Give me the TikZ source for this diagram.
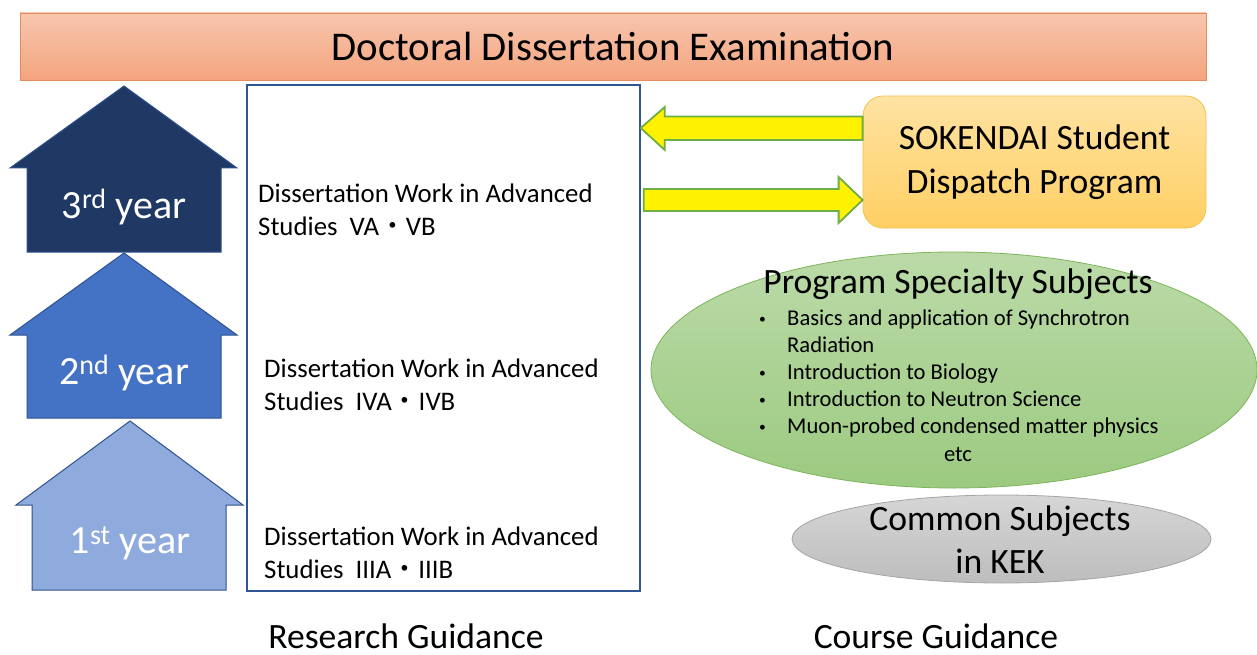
\documentclass[tikz,border=0pt]{standalone}
\usepackage{fontspec}
\usepackage{graphicx}
\setmainfont{Carlito}
\newfontfamily\cjk{Noto Sans CJK JP}
\usetikzlibrary{shapes.geometric,calc}
\definecolor{bannerTop}{HTML}{F8C6AE}
\definecolor{bannerBot}{HTML}{F4A47E}
\definecolor{bannerLine}{HTML}{E58B62}
\definecolor{houseLine}{HTML}{2F528F}
\definecolor{houseA}{HTML}{203864}
\definecolor{houseB}{HTML}{4472C4}
\definecolor{houseC}{HTML}{8FAADC}
\definecolor{boxLine}{HTML}{2F5597}
\definecolor{sokTop}{HTML}{FFE3A3}
\definecolor{sokBot}{HTML}{FFCF63}
\definecolor{sokLine}{HTML}{F2C14E}
\definecolor{greenTop}{HTML}{BBDAA8}
\definecolor{greenBot}{HTML}{9CCA80}
\definecolor{greenLine}{HTML}{7DB55C}
\definecolor{greyTop}{HTML}{D6D6D6}
\definecolor{greyBot}{HTML}{BDBDBD}
\definecolor{greyLine}{HTML}{A5A5A5}
\definecolor{arrowLine}{HTML}{70AD47}
\newcommand\szTitle{\fontsize{40.8}{48}\selectfont}
\newcommand\szBig{\fontsize{35.6}{44}\selectfont}
\newcommand\szBody{\fontsize{26.8}{33}\selectfont}
\newcommand\szSmall{\fontsize{22.6}{27}\selectfont}
\newcommand\mdot{{\cjk ・}}
\newcommand\bul{\makebox[30pt][l]{\hspace{2pt}\raisebox{0.15ex}{\scalebox{0.6}{\textbullet}}}}
\begin{document}
\begin{tikzpicture}[x=1pt,y=-1pt,
  house/.style={draw=houseLine, line width=1pt},
  yearlabel/.style={text=white, font=\fontsize{40}{44}\selectfont, inner sep=0pt},
  bodytext/.style={font=\szBody, align=left, anchor=west, inner sep=0pt},
  yarrow/.style={draw=arrowLine, line width=1.8pt, fill=yellow, line join=miter},
]
\useasboundingbox (0,0) rectangle (1257,655);
\fill[white] (0,0) rectangle (1257,655);

% banner
\node[draw=bannerLine, line width=0.8pt, top color=bannerTop, bottom color=bannerBot,
  minimum width=1186pt, minimum height=67pt, inner sep=0pt, font=\szTitle]
  (banner) at (613,46.5) {Doctoral Dissertation Examination};

% main box
\node[draw=boxLine, line width=1.5pt, minimum width=393pt, minimum height=506pt, inner sep=0pt]
  (box) at (443.5,338) {};

% houses
\draw[house, fill=houseA] (124,86) -- (237,168) -- (221,168) -- (221,252) -- (27,252) -- (27,168) -- (10,168) -- cycle;
\draw[house, fill=houseB] (124,253) -- (237,335) -- (221,335) -- (221,418) -- (27,418) -- (27,335) -- (10,335) -- cycle;
\draw[house, fill=houseC] (130,421) -- (243,505) -- (226,505) -- (226,590) -- (32,590) -- (32,505) -- (16,505) -- cycle;
\node[yearlabel] (y3) at (124,207) {3\textsuperscript{rd} year};
\node[yearlabel] (y2) at (124,373) {2\textsuperscript{nd} year};
\node[yearlabel] (y1) at (130,543) {1\textsuperscript{st} year};

% box texts
\node[bodytext] (t3) at (258,210) {Dissertation Work in Advanced\\Studies\ \ VA\mdot VB};
\node[bodytext] (t2) at (264,385) {Dissertation Work in Advanced\\Studies\ \ IVA\mdot IVB};
\node[bodytext] (t1) at (264,553) {Dissertation Work in Advanced\\Studies\ \ IIIA\mdot IIIB};

% SOKENDAI
\node[draw=sokLine, line width=0.8pt, rounded corners=20pt, top color=sokTop, bottom color=sokBot,
  minimum width=343pt, minimum height=132pt, inner sep=0pt, align=center, font=\szBig]
  (sok) at (1034.5,162) {SOKENDAI Student\\Dispatch Program};

% yellow arrows
\coordinate (la) at (box.east |- 0,128);
\coordinate (ra) at (sok.west |- 0,200);
\draw[yarrow] (sok.west |- 0,116.5) -- ($(la)+(24,-11.5)$) -- ($(la)+(24,-21)$) -- (la)
  -- ($(la)+(24,22)$) -- ($(la)+(24,12)$) -- (sok.west |- 0,140) -- cycle;
\draw[yarrow] ($(box.east |- 0,189)+(3,0)$) -- ($(ra)+(-24,-11)$) -- ($(ra)+(-24,-23)$) -- (ra)
  -- ($(ra)+(-24,23)$) -- ($(ra)+(-24,11)$) -- ($(box.east |- 0,211)+(3,0)$) -- cycle;

% program specialty ellipse
\node[ellipse, draw=greenLine, line width=0.8pt, top color=greenTop, bottom color=greenBot,
  minimum width=606pt, minimum height=236pt, inner sep=0pt] (green) at (954,370) {};
\node[font=\szBig, inner sep=0pt] (gtitle) at (958,284) {Program Specialty Subjects};
\node[font=\szSmall, align=left, anchor=west, inner sep=0pt] (glist) at (757,373)
  {\bul Basics and application of Synchrotron\\
   \makebox[30pt][l]{}Radiation\\
   \bul Introduction to Biology\\
   \bul Introduction to Neutron Science\\
   \bul Muon-probed condensed matter physics};
\node[font=\szSmall, inner sep=0pt] (getc) at (958,454) {etc};

% common subjects ellipse
\node[ellipse, draw=greyLine, line width=0.8pt, top color=greyTop, bottom color=greyBot,
  minimum width=419pt, minimum height=88pt, inner sep=0pt] (grey) at (1001.5,539) {};
\node[font=\fontsize{35.6}{43}\selectfont, align=center, inner sep=0pt] (gtext) at (1000,540) {Common Subjects\\in KEK};

% bottom labels
\node[font=\szBig, inner sep=0pt] (rg) at (406,636) {Research Guidance};
\node[font=\szBig, inner sep=0pt] (cg) at (936,636) {Course Guidance};
\end{tikzpicture}
\end{document}
